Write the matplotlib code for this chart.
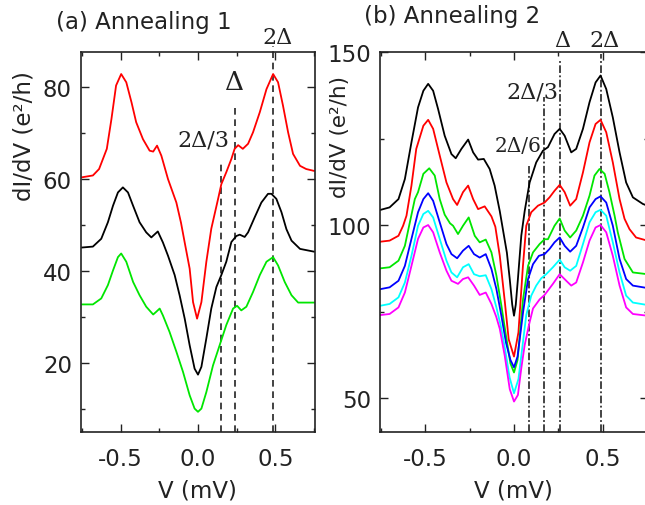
import matplotlib
matplotlib.use("Agg")
import matplotlib.pyplot as plt
from matplotlib.ticker import MultipleLocator, FormatStrFormatter

plt.rcParams["font.family"] = ["DejaVu Sans"]
plt.rcParams["font.size"] = 16.5
plt.rcParams["axes.unicode_minus"] = False

# ---------------- Panel (a): Annealing 1 ----------------
a_red_v = [-0.75, -0.68, -0.64, -0.59, -0.56, -0.53, -0.497, -0.464, -0.43, -0.40,
           -0.356, -0.313, -0.29, -0.265, -0.237, -0.194, -0.14, -0.11, -0.085, -0.054,
           -0.032, -0.006, 0.022, 0.054, 0.086, 0.13, 0.151, 0.183, 0.216, 0.237,
           0.26, 0.29, 0.324, 0.356, 0.40, 0.443, 0.486, 0.518, 0.55, 0.583,
           0.615, 0.66, 0.70, 0.75]
a_red = [60.4, 60.8, 62.2, 66.6, 73.1, 80.4, 82.9, 81.1, 76.7, 72.4,
         68.7, 66.2, 66.0, 67.3, 65.1, 60.0, 54.9, 50.5, 46.0, 40.5,
         33.2, 29.6, 33.2, 42.0, 49.2, 55.7, 58.9, 61.5, 64.4, 66.6,
         67.4, 66.6, 67.7, 70.2, 74.6, 79.6, 82.9, 81.1, 76.0, 70.2,
         65.5, 62.9, 62.2, 61.8]

a_black_v = [-0.75, -0.68, -0.626, -0.583, -0.55, -0.518, -0.486, -0.453, -0.42, -0.378,
             -0.335, -0.302, -0.26, -0.227, -0.194, -0.151, -0.119, -0.086, -0.054, -0.022,
             0.0, 0.022, 0.054, 0.086, 0.119, 0.151, 0.183, 0.216, 0.248, 0.27,
             0.302, 0.324, 0.367, 0.41, 0.453, 0.475, 0.507, 0.54, 0.572, 0.605,
             0.66, 0.75]
a_black = [45.1, 45.3, 47.0, 50.6, 54.2, 57.1, 58.2, 57.1, 54.2, 50.6,
           48.4, 47.3, 48.6, 46.2, 43.3, 39.1, 34.7, 29.6, 23.8, 18.7,
           17.4, 19.1, 25.3, 31.8, 36.5, 39.1, 42.0, 46.3, 47.6, 47.9,
           47.4, 48.4, 51.7, 54.9, 56.8, 56.8, 55.7, 52.8, 49.1, 46.6,
           44.8, 44.2]

a_green_v = [-0.75, -0.68, -0.626, -0.583, -0.55, -0.518, -0.497, -0.464, -0.42, -0.378,
             -0.335, -0.29, -0.27, -0.248, -0.227, -0.184, -0.14, -0.097, -0.054, -0.022,
             0.0, 0.022, 0.054, 0.097, 0.14, 0.183, 0.227, 0.253, 0.28, 0.313,
             0.356, 0.40, 0.443, 0.486, 0.518, 0.561, 0.605, 0.648, 0.75]
a_green = [32.7, 32.7, 34.0, 36.9, 40.1, 43.0, 43.8, 42.0, 37.6, 34.7,
           32.2, 30.5, 31.1, 31.8, 30.3, 26.7, 22.4, 18.0, 12.9, 10.0,
           9.3, 10.0, 13.6, 19.4, 23.8, 28.2, 31.8, 32.4, 31.4, 32.2,
           35.4, 39.1, 42.0, 43.0, 41.2, 37.6, 34.7, 33.1, 33.1]

a_marks_v = [0.152, 0.24, 0.483]
a_marks_top = [63.7, 76.1, 89.0]

# ---------------- Panel (b): Annealing 2 ----------------
b_black_v = [-0.75, -0.70, -0.65, -0.614, -0.577, -0.54, -0.51, -0.483, -0.455, -0.427,
             -0.39, -0.352, -0.328, -0.296, -0.258, -0.23, -0.202, -0.17, -0.137, -0.109,
             -0.08, -0.06, -0.04, -0.024, -0.01, 0.0, 0.01, 0.022, 0.041, 0.06,
             0.075, 0.088, 0.125, 0.163, 0.191, 0.228, 0.257, 0.285, 0.322, 0.35,
             0.388, 0.425, 0.459, 0.487, 0.519, 0.556, 0.594, 0.631, 0.669, 0.725, 0.75]
b_black = [104.4, 105.1, 107.5, 113.3, 123.9, 134.0, 138.8, 140.8, 138.8, 133.5,
           125.8, 120.5, 119.3, 122.0, 124.7, 121.0, 118.9, 119.1, 116.2, 111.4,
           104.0, 98.0, 92.0, 84.4, 77.0, 73.8, 77.0, 84.4, 96.9, 104.0,
           108.5, 112.3, 118.1, 121.5, 122.5, 126.3, 127.8, 125.8, 121.0, 122.0,
           127.8, 135.5, 141.2, 143.2, 139.3, 131.1, 121.0, 112.3, 108.0, 106.1, 105.6]

b_red_v = [-0.75, -0.70, -0.65, -0.624, -0.605, -0.577, -0.55, -0.51, -0.483, -0.455,
           -0.418, -0.38, -0.343, -0.32, -0.287, -0.258, -0.23, -0.202, -0.165, -0.127,
           -0.105, -0.08, -0.052, -0.03, 0.0, 0.025, 0.05, 0.069, 0.097, 0.135,
           0.172, 0.2, 0.228, 0.257, 0.285, 0.316, 0.35, 0.388, 0.425, 0.459,
           0.487, 0.519, 0.556, 0.594, 0.622, 0.65, 0.687, 0.75]
b_red = [95.2, 95.5, 96.9, 99.8, 102.7, 111.4, 122.0, 128.7, 130.4, 127.8,
         120.1, 112.3, 107.5, 105.8, 109.5, 111.4, 107.5, 104.6, 105.4, 102.5,
         99.5, 91.1, 78.0, 67.0, 62.0, 69.0, 88.0, 99.8, 103.7, 105.6,
         106.5, 108.0, 109.9, 111.6, 109.5, 105.6, 107.5, 115.2, 123.9, 129.2,
         130.4, 126.8, 118.1, 107.5, 101.8, 98.8, 96.4, 95.5]

b_green_v = [-0.75, -0.70, -0.65, -0.614, -0.586, -0.558, -0.54, -0.51, -0.477, -0.446,
             -0.418, -0.39, -0.36, -0.343, -0.315, -0.287, -0.255, -0.221, -0.193, -0.159,
             -0.127, -0.099, -0.071, -0.045, -0.02, 0.0, 0.02, 0.051, 0.079, 0.107,
             0.144, 0.172, 0.191, 0.228, 0.257, 0.285, 0.316, 0.35, 0.388, 0.425,
             0.453, 0.481, 0.51, 0.537, 0.566, 0.584, 0.622, 0.669, 0.75]
b_green = [87.5, 87.8, 89.7, 94.0, 100.8, 107.5, 109.5, 114.8, 116.4, 114.3,
           107.5, 103.0, 100.5, 99.8, 97.4, 99.8, 102.2, 96.9, 95.0, 95.8,
           92.1, 85.4, 76.7, 68.0, 60.0, 57.4, 61.0, 78.6, 88.2, 92.1,
           94.5, 95.9, 95.9, 99.8, 101.9, 98.4, 96.4, 98.4, 102.7, 108.5,
           114.3, 116.2, 114.8, 109.5, 102.7, 97.9, 90.2, 86.3, 85.8]

b_blue_v = [-0.75, -0.70, -0.65, -0.614, -0.577, -0.54, -0.51, -0.483, -0.455, -0.418,
            -0.38, -0.352, -0.32, -0.287, -0.255, -0.225, -0.193, -0.159, -0.127, -0.099,
            -0.071, -0.045, -0.02, 0.0, 0.02, 0.051, 0.079, 0.107, 0.14, 0.172,
            0.2, 0.228, 0.257, 0.285, 0.316, 0.35, 0.388, 0.425, 0.459, 0.487,
            0.519, 0.556, 0.594, 0.631, 0.669, 0.75]
b_blue = [81.5, 82.0, 83.9, 88.2, 96.0, 103.7, 107.5, 109.2, 107.0, 100.8,
          94.5, 91.6, 90.4, 92.6, 94.0, 91.6, 90.6, 91.6, 87.3, 81.5,
          73.8, 66.0, 61.0, 58.9, 62.0, 74.8, 84.4, 88.7, 91.1, 91.6,
          93.1, 95.0, 96.4, 94.0, 92.3, 94.0, 99.3, 105.1, 107.5, 108.3,
          106.5, 99.8, 90.2, 84.4, 82.5, 81.8]

b_cyan_v = [-0.75, -0.70, -0.65, -0.614, -0.577, -0.54, -0.51, -0.483, -0.455, -0.418,
            -0.38, -0.352, -0.32, -0.287, -0.255, -0.225, -0.193, -0.159, -0.127, -0.099,
            -0.075, -0.05, -0.025, 0.0, 0.025, 0.05, 0.069, 0.097, 0.125, 0.153,
            0.181, 0.219, 0.257, 0.285, 0.316, 0.35, 0.388, 0.425, 0.459, 0.487,
            0.519, 0.556, 0.594, 0.631, 0.669, 0.75]
b_cyan = [76.7, 77.2, 79.1, 83.4, 91.1, 99.8, 103.2, 104.1, 102.2, 96.0,
          89.7, 86.3, 84.9, 87.8, 88.7, 85.8, 85.2, 85.5, 81.5, 76.2,
          71.0, 64.0, 56.0, 51.4, 55.5, 66.0, 74.0, 79.6, 82.5, 84.6,
          85.8, 87.8, 90.0, 87.8, 86.8, 88.2, 94.5, 100.8, 103.7, 104.4,
          102.7, 95.0, 86.3, 79.6, 77.6, 76.9]

b_magenta_v = [-0.75, -0.70, -0.65, -0.614, -0.577, -0.54, -0.51, -0.483, -0.455, -0.418,
               -0.38, -0.352, -0.315, -0.287, -0.258, -0.225, -0.193, -0.159, -0.127, -0.10,
               -0.08, -0.052, -0.024, 0.0, 0.022, 0.041, 0.06, 0.084, 0.107, 0.144,
               0.172, 0.219, 0.257, 0.294, 0.322, 0.35, 0.388, 0.425, 0.459, 0.487,
               0.519, 0.556, 0.594, 0.631, 0.669, 0.75]
b_magenta = [74.0, 74.3, 76.2, 80.5, 88.2, 96.0, 99.3, 100.0, 97.9, 92.1,
             86.8, 83.9, 83.0, 84.4, 84.9, 82.5, 79.8, 80.5, 77.2, 73.5,
             70.0, 62.2, 52.6, 49.0, 50.9, 58.6, 65.3, 71.1, 75.9, 78.5,
             79.8, 83.0, 85.8, 83.9, 82.5, 83.4, 89.2, 95.5, 99.3, 100.0,
             97.9, 91.1, 82.5, 76.2, 74.3, 73.8]

b_marks_v = [0.084, 0.169, 0.257, 0.489]
b_marks_top = [117.0, 137.0, 148.0, 149.5]

W, H = 645, 506
fig = plt.figure(figsize=(W / 100, H / 100), dpi=100)


def rect(left, top, right, bottom):
    return [left / W, 1 - bottom / H, (right - left) / W, (bottom - top) / H]


def px(x, y):
    return x / W, 1 - y / H


def style_axes(ax, xlim, ylim, ymajor, yminor):
    ax.set_xlim(*xlim)
    ax.set_ylim(*ylim)
    ax.xaxis.set_major_locator(MultipleLocator(0.5))
    ax.xaxis.set_minor_locator(MultipleLocator(0.25))
    ax.xaxis.set_major_formatter(FormatStrFormatter("%.1f"))
    ax.yaxis.set_major_locator(MultipleLocator(ymajor))
    ax.yaxis.set_minor_locator(MultipleLocator(yminor))
    ax.tick_params(which="both", direction="in", top=True, right=True, width=1.0,
                   colors="#222222", labelcolor="#222222")
    ax.tick_params(which="major", length=5.5)
    ax.tick_params(which="minor", length=2.8)
    ax.tick_params(axis="x", pad=11)
    ax.tick_params(axis="y", pad=6.5)
    for s in ax.spines.values():
        s.set_linewidth(1.2)
        s.set_color("#222222")


lw = 1.3

# Panel (a)
ax1 = fig.add_axes(rect(81, 53, 315, 433))
style_axes(ax1, (-0.757, 0.757), (4.9, 87.7), 20, 10)
ax1.plot(a_red_v, a_red, color="#ff0000", lw=lw)
ax1.plot(a_black_v, a_black, color="#000000", lw=lw)
ax1.plot(a_green_v, a_green, color="#00e600", lw=lw)
for v, top in zip(a_marks_v, a_marks_top):
    ax1.plot([v, v], [4.9, top], color="#222222", lw=1.2, ls=(0, (4, 2.8)),
             clip_on=False, zorder=1)

# Panel (b)
ax2 = fig.add_axes(rect(380, 53, 648, 433))
style_axes(ax2, (-0.754, 0.754), (40.2, 150), 50, 25)
ax2.plot(b_black_v, b_black, color="#000000", lw=lw)
ax2.plot(b_red_v, b_red, color="#ff0000", lw=lw)
ax2.plot(b_green_v, b_green, color="#00e600", lw=lw)
ax2.plot(b_blue_v, b_blue, color="#0000ff", lw=lw)
ax2.plot(b_cyan_v, b_cyan, color="#00ffff", lw=lw)
ax2.plot(b_magenta_v, b_magenta, color="#ff00ff", lw=lw)
for v, top in zip(b_marks_v, b_marks_top):
    ax2.plot([v, v], [40.2, top], color="#111111", lw=1.1, ls=(0, (5, 1.6, 1.2, 1.6)),
             clip_on=False, zorder=1)

# Titles and axis labels
txt = "#222222"
fig.text(*px(144, 28.5), "(a) Annealing 1", ha="center", va="baseline", color=txt, fontsize=16.5)
fig.text(*px(452.5, 23.5), "(b) Annealing 2", ha="center", va="baseline", color=txt, fontsize=16.5)
fig.text(*px(24, 136), "dI/dV (e²/h)", rotation=90, ha="center", va="center", color=txt, fontsize=16.5)
fig.text(*px(340, 137), "dI/dV (e²/h)", rotation=90, ha="center", va="center", color=txt, fontsize=15.5)
fig.text(*px(197.5, 498), "V (mV)", ha="center", va="baseline", color=txt, fontsize=16.5)
fig.text(*px(513, 498), "V (mV)", ha="center", va="baseline", color=txt, fontsize=16.5)

# Gap markers
serif = ["DejaVu Serif"]
fig.text(*px(278, 43.5), "2Δ", ha="center", va="baseline", family=serif, fontsize=16, color=txt)
fig.text(*px(234.5, 90), "Δ", ha="center", va="baseline", family=serif, fontsize=19, color=txt)
fig.text(*px(203, 146.5), "2Δ/3", ha="center", va="baseline", family=serif, fontsize=16, color=txt)
fig.text(*px(562, 47), "Δ", ha="center", va="baseline", family=serif, fontsize=16, color=txt)
fig.text(*px(605, 47), "2Δ", ha="center", va="baseline", family=serif, fontsize=16, color=txt)
fig.text(*px(532, 98.5), "2Δ/3", ha="center", va="baseline", family=serif, fontsize=16, color=txt)
fig.text(*px(518, 152.5), "2Δ/6", ha="center", va="baseline", family=serif, fontsize=14.5, color=txt)

fig.savefig("out.png", dpi=100)
